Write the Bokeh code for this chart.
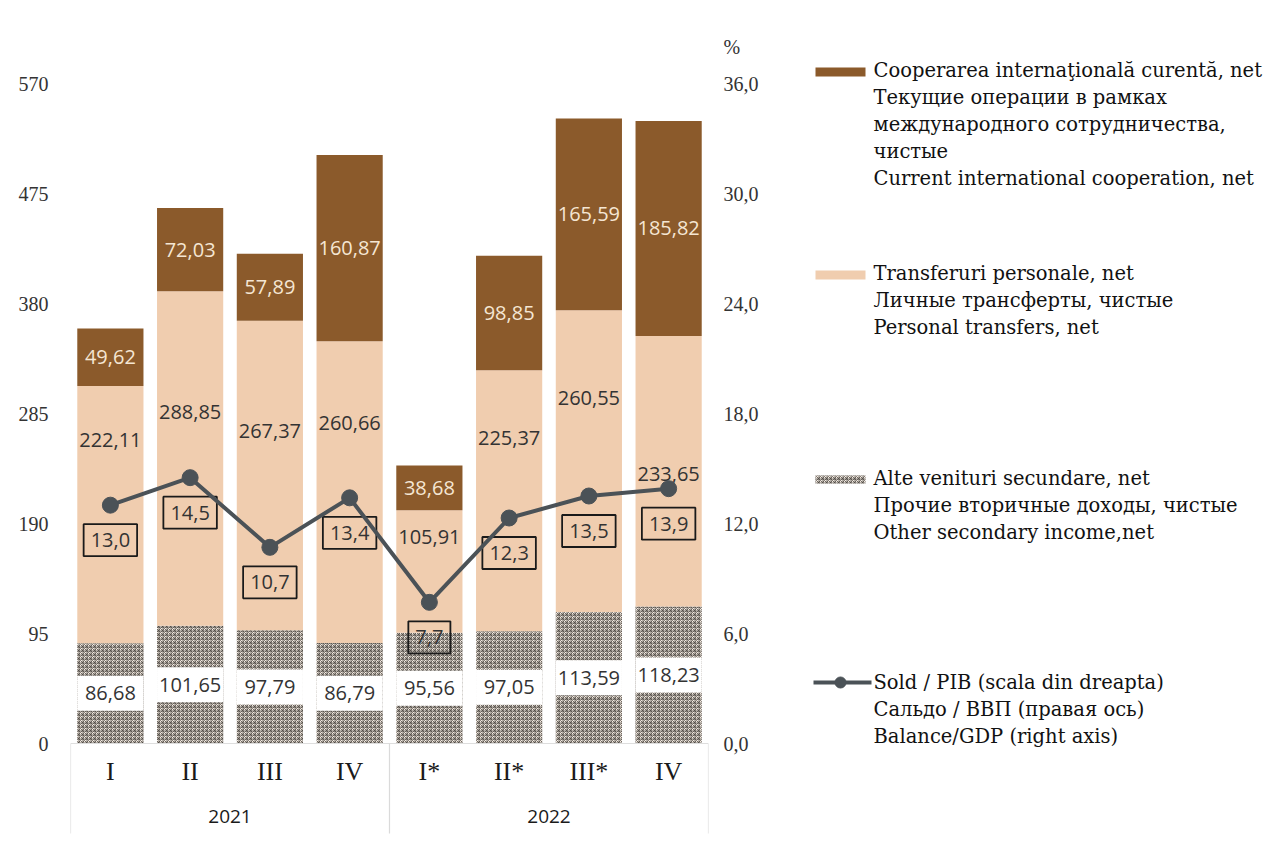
from bokeh.plotting import figure
from bokeh.models import (ColumnDataSource, Range1d, LinearAxis, FixedTicker,
                          CustomJSTickFormatter)
from bokeh.layouts import row
from bokeh.embed import file_html
from bokeh.resources import INLINE
from bokeh.core.properties import value

# ---------------- data ----------------
quarters = ["I", "II", "III", "IV", "I*", "II*", "III*", "IV"]
years = ["2021", "2022"]
other_income = [86.68, 101.65, 97.79, 86.79, 95.56, 97.05, 113.59, 118.23]
personal_transfers = [222.11, 288.85, 267.37, 260.66, 105.91, 225.37, 260.55, 233.65]
intl_coop = [49.62, 72.03, 57.89, 160.87, 38.68, 98.85, 165.59, 185.82]
balance_gdp = [13.0, 14.5, 10.7, 13.4, 7.7, 12.3, 13.5, 13.9]
left_ticks = [0, 95, 190, 285, 380, 475, 570]
right_ticks = [0, 6, 12, 18, 24, 30, 36]

# layout helpers (label placement inside the middle segment, fraction from its bottom)
mid_label_frac = [0.79, 0.64, 0.645, 0.73, 0.78, 0.74, 0.71, 0.49]

BROWN = "#8B5A2B"
TAN = "#F0CDAF"
HATCH_BG = "#F4ECE3"
HATCH_FG = "#4E4842"
LINE = "#4B5257"
NUMF = "Open Sans"
SERIF = "Liberation Serif"
LSERIF = "DejaVu Serif"

xs = list(range(len(quarters)))
mid_bottom = other_income
mid_top = [a + b for a, b in zip(other_income, personal_transfers)]
top_top = [a + b for a, b in zip(mid_top, intl_coop)]

src = ColumnDataSource(dict(
    x=xs,
    oth=other_income,
    oth_mid=[v / 2 for v in other_income],
    oth_lbl=[f"{v:.2f}".replace(".", ",") for v in other_income],
    mid_b=mid_bottom,
    mid_t=mid_top,
    mid_y=[b + f * v for b, f, v in zip(mid_bottom, mid_label_frac, personal_transfers)],
    mid_lbl=[f"{v:.2f}".replace(".", ",") for v in personal_transfers],
    top_t=top_top,
    top_y=[b + v / 2 for b, v in zip(mid_top, intl_coop)],
    top_lbl=[f"{v:.2f}".replace(".", ",") for v in intl_coop],
    bal=balance_gdp,
    bal_lbl=[f"{v:.1f}".replace(".", ",") for v in balance_gdp],
))

# pixel geometry: frame from y=28 to 835, value 0 at y=743
PX_LEFT = 660 / 570.0    # px per left-axis unit
PX_RIGHT = 660 / 36.0    # px per right-axis unit
W1, H = 808, 835
TOP = 28
BELOW = H - 743
ABOVE = 743 - TOP
p = figure(width=W1, height=H, title=None,
           x_range=Range1d(-0.5, 7.5),
           y_range=Range1d(-BELOW / PX_LEFT, ABOVE / PX_LEFT),
           x_axis_type=None, y_axis_type=None, output_backend="svg", toolbar_location=None,
           min_border_left=70, min_border_right=100, min_border_top=TOP, min_border_bottom=0)
p.extra_y_ranges = {"pct": Range1d(-BELOW / PX_RIGHT, ABOVE / PX_RIGHT)}
p.outline_line_color = None
p.grid.visible = False
p.background_fill_color = "white"
p.border_fill_color = "white"

# y axes
yl = LinearAxis(ticker=FixedTicker(ticks=left_ticks), axis_line_color=None,
                major_tick_line_color=None, minor_tick_line_color=None,
                major_tick_out=0, major_label_standoff=22,
                major_label_text_font=SERIF, major_label_text_font_size="20px",
                major_label_text_color="#333333")
p.add_layout(yl, "left")
yr = LinearAxis(y_range_name="pct", ticker=FixedTicker(ticks=right_ticks + [38.0]),
                axis_line_color=None,
                major_tick_line_color=None, minor_tick_line_color=None,
                major_tick_out=0, major_label_standoff=15,
                formatter=CustomJSTickFormatter(
                    code="return tick > 37 ? '%' : tick.toFixed(1).replace('.', ',');"),
                major_label_text_font=SERIF, major_label_text_font_size="20px",
                major_label_text_color="#333333")
p.add_layout(yr, "right")

# category box separators (axis fixed at value 0)
xsep = LinearAxis(fixed_location=0, ticker=FixedTicker(ticks=[-0.5, 3.5, 7.5], minor_ticks=[]),
                  formatter=CustomJSTickFormatter(code="return '';"),
                  axis_line_color="#dedede", axis_line_width=1.2,
                  major_tick_line_color="#dadada", major_tick_line_width=1.2,
                  major_tick_out=90, major_tick_in=0, minor_tick_line_color=None,
                  major_label_text_font_size="1px")
p.add_layout(xsep, "below")
# quarter labels
xq = LinearAxis(fixed_location=0, ticker=FixedTicker(ticks=xs, minor_ticks=[]),
                formatter=CustomJSTickFormatter(args=dict(labels=quarters),
                                                code="return labels[Math.round(tick)];"),
                axis_line_color=None, major_tick_line_color=None, major_tick_out=0,
                minor_tick_line_color=None,
                major_label_standoff=13, major_label_text_font=SERIF,
                major_label_text_font_size="26px", major_label_text_color="#1a1a1a")
p.add_layout(xq, "below")
# year labels
xy = LinearAxis(fixed_location=0, ticker=FixedTicker(ticks=[1.5, 5.5], minor_ticks=[]),
                formatter=CustomJSTickFormatter(args=dict(labels=years),
                                                code="return labels[tick < 3.5 ? 0 : 1];"),
                axis_line_color=None, major_tick_line_color=None, major_tick_out=0,
                minor_tick_line_color=None, major_label_standoff=66,
                major_label_text_font=NUMF, major_label_text_font_size="19px",
                major_label_text_color="#1a1a1a")
p.add_layout(xy, "below")

# bars
BW = 0.83
p.vbar(x="x", width=BW, bottom=0, top="oth", source=src, fill_color=HATCH_BG,
       line_color=None, hatch_pattern="criss_cross", hatch_color=HATCH_FG,
       hatch_scale=4, hatch_weight=0.8)
p.vbar(x="x", width=BW, bottom="mid_b", top="mid_t", source=src, fill_color=TAN, line_color=None)
p.vbar(x="x", width=BW, bottom="mid_t", top="top_t", source=src, fill_color=BROWN, line_color=None)

# white band behind the bottom labels
p.rect(x="x", y="oth_mid", width=BW, height=35, height_units="screen", source=src,
       fill_color="white", line_color=None)

p.text(x="x", y="oth_mid", text="oth_lbl", source=src, text_align="center",
       text_baseline="middle", text_font=value(NUMF), text_font_size="20px", text_color="#333333")
p.text(x="x", y="mid_y", text="mid_lbl", source=src, text_align="center",
       text_baseline="middle", text_font=value(NUMF), text_font_size="20px", text_color="#333333")
p.text(x="x", y="top_y", text="top_lbl", source=src, text_align="center",
       text_baseline="middle", text_font=value(NUMF), text_font_size="20px", text_color="#F5E6D3")

# boxed balance labels
p.text(x="x", y="bal", text="bal_lbl", source=src, y_range_name="pct", y_offset=35,
       text_align="center", text_baseline="middle", text_font=value(NUMF),
       text_font_size="20px", text_color="#333333", border_line_color="#1a1a1a",
       border_line_width=1.8, padding=dict(left=7, right=7, top=9, bottom=9))

# balance line
p.line(x="x", y="bal", source=src, y_range_name="pct", line_color=LINE, line_width=4)
p.scatter(x="x", y="bal", source=src, y_range_name="pct", size=16, fill_color=LINE,
          line_color=LINE)

# ---------------- legend panel ----------------
# the row aligns this frame with the chart frame (page y = TOP .. H), so use page coordinates
W2 = 467
lg = figure(width=W2, height=H, title=None, x_range=Range1d(W1, W1 + W2),
            y_range=Range1d(H, TOP),
            x_axis_type=None, y_axis_type=None, output_backend="svg", toolbar_location=None,
            min_border=0, min_border_top=TOP, min_border_bottom=0,
            min_border_left=0, min_border_right=0)
lg.outline_line_color = None
lg.grid.visible = False

legend_items = [
    ["Cooperarea internaţională curentă, net",
     "Текущие операции в рамках",
     "международного сотрудничества,",
     "чистые",
     "Current international cooperation, net"],
    ["Transferuri personale, net",
     "Личные трансферты, чистые",
     "Personal transfers, net"],
    ["Alte venituri secundare, net",
     "Прочие вторичные доходы, чистые",
     "Other secondary income,net"],
    ["Sold / PIB (scala din dreapta)",
     "Сальдо / ВВП (правая ось)",
     "Balance/GDP (right axis)"],
]
item_top = [70, 273, 478, 682]
LH = 27
TX = 873
tx, ty, tt = [], [], []
for lines, y0 in zip(legend_items, item_top):
    for k, t in enumerate(lines):
        tx.append(TX)
        ty.append(y0 + k * LH)
        tt.append(t)
lg.text(x=tx, y=ty, text=tt, text_baseline="middle", text_align="left",
        text_font=value(LSERIF), text_font_size="19.5px", text_color="#111111")

SX0, SX1 = 815, 865
lg.quad(left=[SX0], right=[SX1], top=[item_top[0] - 3], bottom=[item_top[0] + 6],
        fill_color=BROWN, line_color=None)
lg.quad(left=[SX0], right=[SX1], top=[item_top[1] - 3], bottom=[item_top[1] + 6],
        fill_color=TAN, line_color=None)
lg.quad(left=[SX0], right=[SX1], top=[item_top[2] - 3], bottom=[item_top[2] + 5],
        fill_color=HATCH_BG, line_color=None, hatch_pattern="criss_cross",
        hatch_color=HATCH_FG, hatch_scale=4, hatch_weight=0.8)
lg.line(x=[813, 871], y=[item_top[3], item_top[3]], line_color=LINE, line_width=4)
lg.scatter(x=[840], y=[item_top[3]], size=11, fill_color=LINE, line_color=LINE)

layout = row(p, lg)
open("out.html", "w").write(file_html(layout, INLINE))
